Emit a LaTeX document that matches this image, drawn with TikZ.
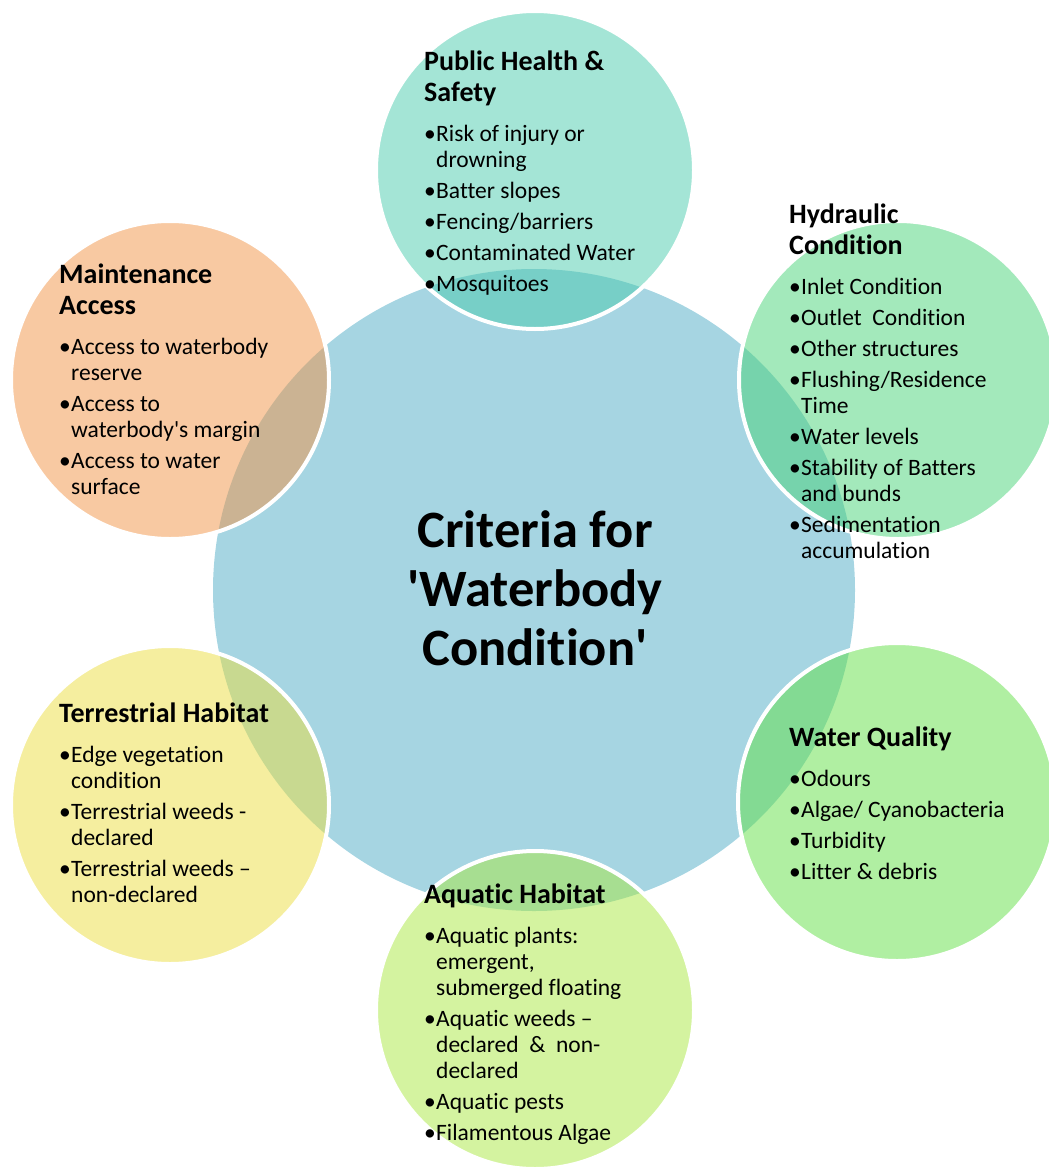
\documentclass[tikz,border=0pt]{standalone}
\usepackage{fontspec}
\setmainfont{Carlito}[Ligatures={TeX,NoCommon}]

% colours of the discs
\definecolor{hubblue}{RGB}{166,213,226}
\definecolor{safetyteal}{RGB}{73,203,173}
\definecolor{hydrogreen}{RGB}{71,211,119}
\definecolor{qualitygreen}{RGB}{97,223,69}
\definecolor{aquaticlime}{RGB}{169,231,65}
\definecolor{terrayellow}{RGB}{235,221,63}
\definecolor{accessorange}{RGB}{241,147,69}

% one bullet of a criterion
\newcommand\itm[1]{\par\hangindent=12pt\hangafter=1\noindent\makebox[12pt][l]{\textbullet}{\let\\\newline #1}}
% heading plus bullets of a criterion
\newcommand\crit[2]{\parbox[t]{300pt}{\raggedright
  \fontsize{28}{31}\selectfont\bfseries #1\par\vspace{9pt}
  \fontsize{23.5}{26}\selectfont\mdseries\setlength{\parskip}{5pt}#2}}

\begin{document}
\begin{tikzpicture}[x=1pt,y=-1pt,
    hub/.style={circle,fill=hubblue,minimum size=642pt,inner sep=0pt},
    sat/.style={circle,fill=#1,fill opacity=0.5,draw=white,line width=4pt,minimum size=318pt,inner sep=0pt},
    crittext/.style={anchor=base west,inner sep=0pt,text=black}]
	\useasboundingbox (0,0) rectangle (1049,1167);

	%centre disc
	\node[hub] (hub) at (534,590) {};

	%criteria discs
	\node[sat=safetyteal] (safety) at (535,170) {}; %top
	\node[sat=hydrogreen] (hydraulic) at (898,380) {}; %upper right
	\node[sat=qualitygreen] (quality) at (897,802) {}; %lower right
	\node[sat=aquaticlime] (aquatic) at (535,1010) {}; %bottom
	\node[sat=terrayellow] (terrestrial) at (170,805) {}; %lower left
	\node[sat=accessorange] (access) at (170,380) {}; %upper left

	%centre label
	\node[anchor=base,inner sep=0pt] (hublabel) at (535,547) {\parbox[t]{420pt}{\centering
	  \fontsize{52.5}{59}\selectfont\bfseries Criteria for\\\textquotesingle Waterbody\\Condition\textquotesingle}};

	%criteria labels
	\node[crittext] (safetylabel) at (424,70) {\crit{Public Health \&\\Safety}{%
	  \itm{Risk of injury or\\drowning}\itm{Batter slopes}\itm{Fencing/barriers}%
	  \itm{Contaminated Water}\itm{Mosquitoes}}};
	\node[crittext] (hydrauliclabel) at (789,223) {\crit{Hydraulic\\Condition}{%
	  \itm{Inlet Condition}\itm{Outlet\ \ Condition}\itm{Other structures}%
	  \itm{Flushing/Residence\\Time}\itm{Water levels}\itm{Stability of Batters\\and bunds}%
	  \itm{Sedimentation\\accumulation}}};
	\node[crittext] (qualitylabel) at (789,746) {\crit{Water Quality}{%
	  \itm{Odours}\itm{Algae/ Cyanobacteria}\itm{Turbidity}\itm{Litter \& debris}}};
	\node[crittext] (aquaticlabel) at (424,903) {\crit{Aquatic Habitat}{%
	  \itm{Aquatic plants:\\emergent,\\submerged floating}%
	  \itm{Aquatic weeds --\\declared\ \ \&\ \ non-\\declared}%
	  \itm{Aquatic pests}\itm{Filamentous Algae}}};
	\node[crittext] (terrestriallabel) at (59,722) {\crit{Terrestrial Habitat}{%
	  \itm{Edge vegetation\\condition}\itm{Terrestrial weeds -\\declared}%
	  \itm{Terrestrial weeds --\\non-declared}}};
	\node[crittext] (accesslabel) at (59,283) {\crit{Maintenance\\Access}{%
	  \itm{Access to waterbody\\reserve}\itm{Access to\\waterbody\textquotesingle s margin}%
	  \itm{Access to water\\surface}}};
\end{tikzpicture}
\end{document}
